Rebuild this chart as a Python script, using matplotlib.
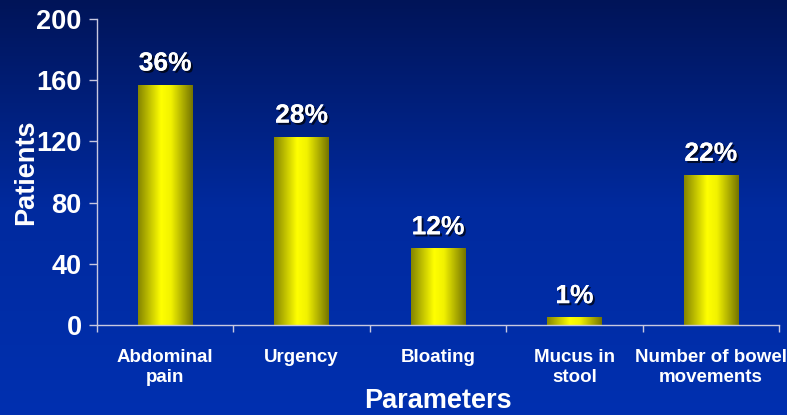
import numpy as np
import matplotlib
matplotlib.use("Agg")
import matplotlib.pyplot as plt
import matplotlib.patheffects as pe
from matplotlib.colors import LinearSegmentedColormap

# Data
categories = ["Abdominal\npain", "Urgency", "Bloating", "Mucus in\nstool", "Number of bowel\nmovements"]
patients = [157, 123, 50, 5, 98]
percent_labels = ["36%", "28%", "12%", "1%", "22%"]
y_ticks = [0, 40, 80, 120, 160, 200]

plt.rcParams['font.family'] = ['Liberation Sans', 'DejaVu Sans']
plt.rcParams['font.weight'] = 'bold'

fig = plt.figure(figsize=(7.87, 4.15), dpi=100)

# vertical blue gradient background
bg = fig.add_axes([0, 0, 1, 1], zorder=-10)
bg_cmap = LinearSegmentedColormap.from_list("bg", ["#0030b0", "#002a9e", "#001458"])
grad = np.linspace(0, 1, 256).reshape(-1, 1)
bg.imshow(grad, aspect="auto", cmap=bg_cmap, origin="lower", extent=[0, 1, 0, 1])
bg.set_axis_off()

ax = fig.add_axes([0.1233, 0.2169, 0.8665, 0.7373])
ax.patch.set_alpha(0)

x = np.arange(len(categories))
bars = ax.bar(x, patients, width=0.40, color="none", edgecolor="none")

# horizontal yellow gradient inside each bar
bar_cmap = LinearSegmentedColormap.from_list(
    "bar", [(0, "#858500"), (0.42, "#ffff00"), (0.6, "#f2f200"), (1, "#747400")])
hgrad = np.linspace(0, 1, 256).reshape(1, -1)
for b in bars:
    x0, y0 = b.get_x(), b.get_y()
    im = ax.imshow(hgrad, aspect="auto", cmap=bar_cmap,
                   extent=[x0, x0 + b.get_width(), y0, y0 + b.get_height()], zorder=2)
    im.set_clip_path(b)

shadow = [pe.withSimplePatchShadow(offset=(1.5, -1.5), shadow_rgbFace="black", alpha=0.7), pe.Normal()]
for xi, v, lab in zip(x, patients, percent_labels):
    ax.text(xi, v + 6, lab, ha="center", va="bottom", color="white",
            fontsize=19, fontweight="bold", path_effects=shadow)

ax.set_xlim(-0.5, len(categories) - 0.5)
ax.set_ylim(0, 200)
ax.set_yticks(y_ticks)
ax.set_yticklabels([str(t) for t in y_ticks], fontsize=19.5, color="white", fontweight="bold")

# category names drawn as centred text under each bar
ax.set_xticks(np.arange(-0.5, len(categories)))
ax.set_xticklabels([])
ax.tick_params(axis="x", length=5, color="#c8c8e0", width=1)
for xi, name in zip(x, categories):
    ax.annotate(name, xy=(xi, 0), xycoords=("data", "axes fraction"),
                xytext=(0, -17), textcoords="offset points", ha="center", va="top",
                multialignment="center", linespacing=1.3,
                fontsize=13.5, color="white", fontweight="bold")
ax.tick_params(axis="y", length=6, color="#c8c8e0", width=1, pad=5)

for s in ["top", "right"]:
    ax.spines[s].set_visible(False)
for s in ["left", "bottom"]:
    ax.spines[s].set_color("#c8c8e0")
    ax.spines[s].set_linewidth(1)

ax.set_ylabel("Patients", fontsize=19.5, color="white", fontweight="bold", labelpad=-2)
ax.text(0.5, -0.207, "Parameters", transform=ax.transAxes, ha="center", va="top",
        fontsize=19.5, color="white", fontweight="bold")

fig.savefig("out.png", dpi=100)
